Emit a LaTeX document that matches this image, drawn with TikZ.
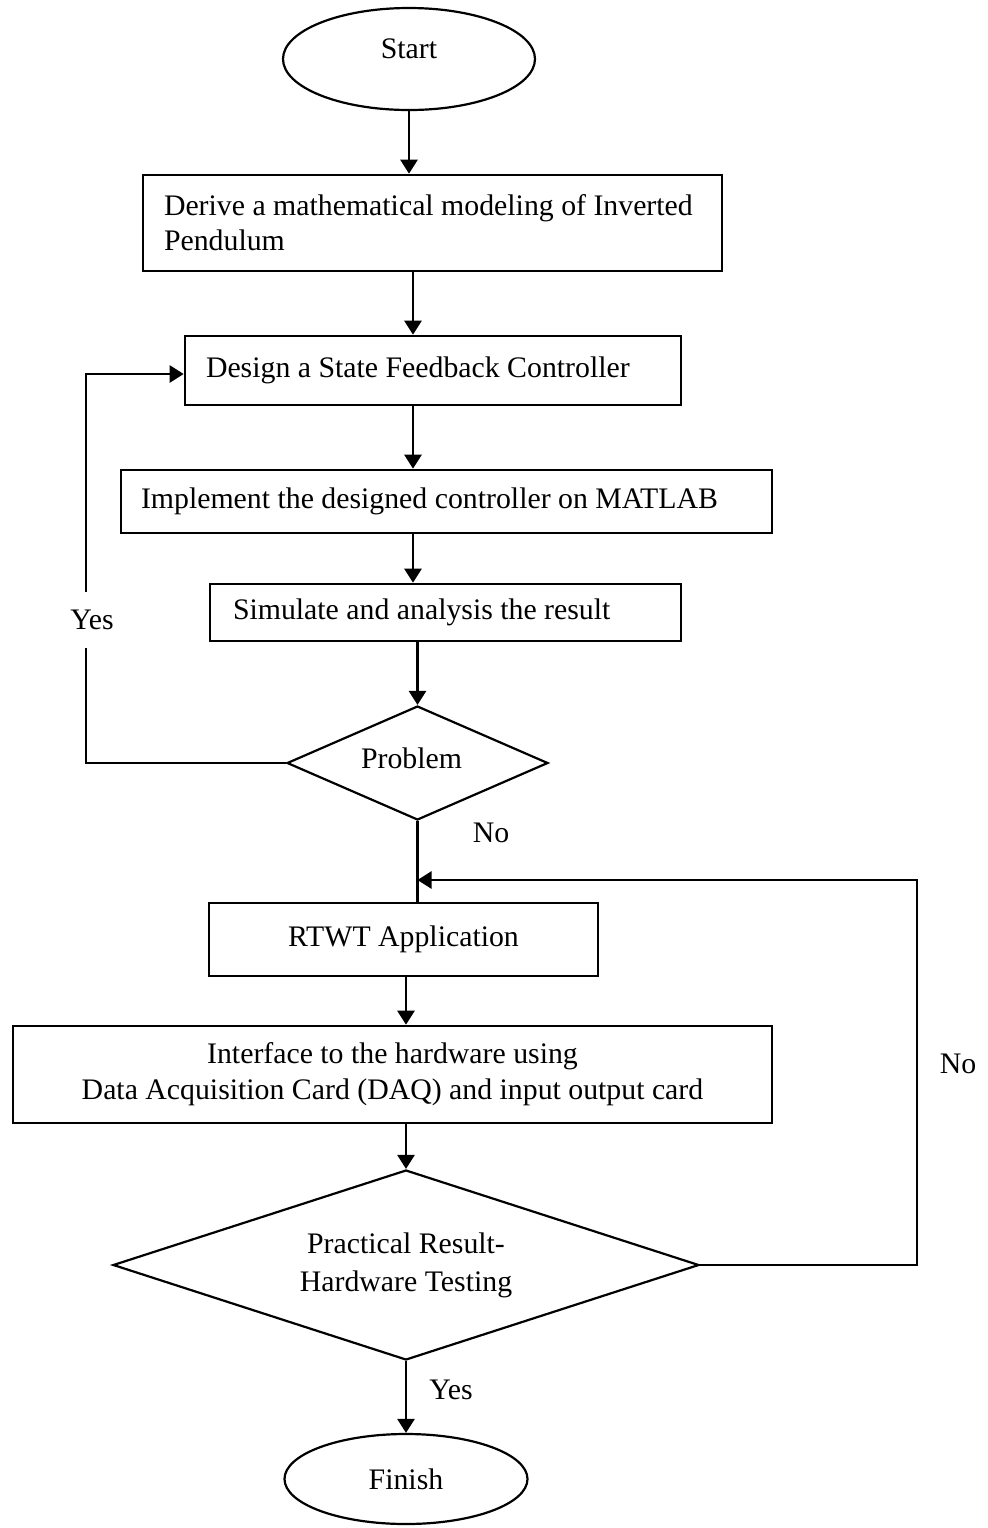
\documentclass[tikz,border=0pt]{standalone}
\usepackage{fontspec}
\setmainfont{Liberation Serif}
\usetikzlibrary{shapes.geometric,arrows.meta}
\begin{document}
\begin{tikzpicture}[x=0.5pt,y=-0.5pt,
  every node/.style={font=\fontsize{14.9}{17.5}\selectfont},
  box/.style={draw, line width=1.3pt, rectangle, inner sep=0pt},
  lbox/.style={box, align=flush left},
  cbox/.style={box, align=center},
  term/.style={draw, line width=1.1pt, ellipse, inner sep=0pt},
  dec/.style={draw, line width=1.1pt, diamond, inner sep=0pt, align=center},
  arr/.style={line width=1.3pt, -{Triangle[length=7pt,width=8.5pt]}},
  ln/.style={line width=1.3pt},
  lab/.style={inner sep=0pt}]
\useasboundingbox (0,0) rectangle (988,1528);

% nodes
\node[term, minimum width=126pt, minimum height=51pt] (start) at (409,59) {\raisebox{10pt}{Start}};
\node[lbox, minimum width=289.5pt, minimum height=48pt, text width=268.5pt, inner xsep=10.5pt] (b1) at (432.5,223)
  {\mbox{Derive a mathematical modeling of Inverted}\\Pendulum};
\node[lbox, minimum width=248pt, minimum height=34.5pt, text width=227pt, inner xsep=10.5pt] (b2) at (433,370.5)
  {\mbox{Design a State Feedback Controller}};
\node[lbox, minimum width=325.5pt, minimum height=31.5pt, text width=305.5pt, inner xsep=10pt] (b3) at (446.5,501.5)
  {\mbox{Implement the designed controller on MATLAB}};
\node[lbox, minimum width=235.5pt, minimum height=28.5pt, text width=212.5pt, inner xsep=11.5pt] (b4) at (445.5,612.5)
  {\mbox{Simulate and analysis the result}};
\node[dec, minimum width=130.5pt, minimum height=57pt, shape aspect=2.29] (prob) at (417.5,763) {\raisebox{5pt}{Problem}\hspace{6pt}};
\node[cbox, minimum width=194.5pt, minimum height=36.5pt] (rtwt) at (403.5,939.5) {RTWT Application};
\node[cbox, minimum width=379.5pt, minimum height=48.5pt, font=\fontsize{14.9}{18}\selectfont] (iface) at (392.5,1074.5)
  {Interface to the hardware using\\Data Acquisition Card (DAQ) and input output card};
\node[dec, minimum width=293pt, minimum height=95pt, shape aspect=3.08, font=\fontsize{14.9}{19}\selectfont] (d2) at (406,1265)
  {Practical Result-\\Hardware Testing};
\node[term, minimum width=121.5pt, minimum height=45pt] (fin) at (406,1479) {Finish};

% helper coordinates
\coordinate (c1) at (413,0);
\coordinate (c3) at (406,0);
\coordinate (yl) at (86,374);
\coordinate (nr) at (917,880);

% connectors
\draw[arr] (start.south) -- (start.south |- b1.north);
\draw[arr] (c1 |- b1.south) -- (c1 |- b2.north);
\draw[arr] (c1 |- b2.south) -- (c1 |- b3.north);
\draw[arr] (c1 |- b3.south) -- (c1 |- b4.north);
\draw[arr] (prob.north |- b4.south) -- (prob.north);
\draw[arr] (prob.west) -| (yl) -- (b2.west |- yl);
\draw[ln] (prob.south) -- (prob.south |- rtwt.north);
\draw[arr] (d2.east) -| (nr) -- (prob.south |- nr);
\draw[arr] (c3 |- rtwt.south) -- (c3 |- iface.north);
\draw[arr] (c3 |- iface.south) -- (d2.north);
\draw[arr] (d2.south) -- (fin.north);

% labels
\node[lab, fill=white, inner xsep=2pt, inner ysep=9pt] (yes1) at (92,620) {Yes};
\node[lab] (no1) at (491,833) {No};
\node[lab] (no2) at (958,1064) {No};
\node[lab] (yes2) at (451,1390) {Yes};
\end{tikzpicture}
\end{document}
